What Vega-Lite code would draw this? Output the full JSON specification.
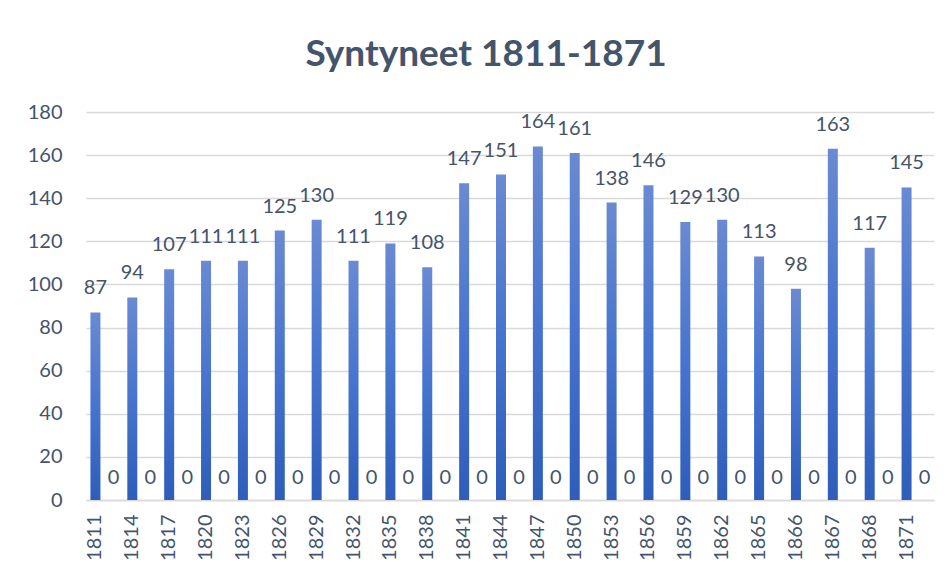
{
  "$schema": "https://vega.github.io/schema/vega-lite/v6.json",
  "width": 848,
  "height": 388,
  "autosize": {"type": "none"},
  "padding": {"left": 86, "top": 112, "right": 18, "bottom": 77},
  "background": "white",
  "title": {
    "text": "Syntyneet 1811-1871",
    "font": "Lato",
    "fontSize": 37,
    "fontWeight": "bold",
    "color": "#44546A",
    "anchor": "middle",
    "baseline": "alphabetic",
    "dx": -24,
    "offset": -1
  },
  "config": {
    "view": {"stroke": null},
    "axis": {"labelFont": "Lato", "labelFontSize": 20, "labelColor": "#44546A", "ticks": false, "title": null}
  },
  "data": {
    "values": [
      {"year": "1811", "births": 87, "other": 0},
      {"year": "1814", "births": 94, "other": 0},
      {"year": "1817", "births": 107, "other": 0},
      {"year": "1820", "births": 111, "other": 0},
      {"year": "1823", "births": 111, "other": 0},
      {"year": "1826", "births": 125, "other": 0},
      {"year": "1829", "births": 130, "other": 0},
      {"year": "1832", "births": 111, "other": 0},
      {"year": "1835", "births": 119, "other": 0},
      {"year": "1838", "births": 108, "other": 0},
      {"year": "1841", "births": 147, "other": 0},
      {"year": "1844", "births": 151, "other": 0},
      {"year": "1847", "births": 164, "other": 0},
      {"year": "1850", "births": 161, "other": 0},
      {"year": "1853", "births": 138, "other": 0},
      {"year": "1856", "births": 146, "other": 0},
      {"year": "1859", "births": 129, "other": 0},
      {"year": "1862", "births": 130, "other": 0},
      {"year": "1865", "births": 113, "other": 0},
      {"year": "1866", "births": 98, "other": 0},
      {"year": "1867", "births": 163, "other": 0},
      {"year": "1868", "births": 117, "other": 0},
      {"year": "1871", "births": 145, "other": 0}
    ]
  },
  "encoding": {
    "x": {
      "field": "year",
      "type": "ordinal",
      "sort": null,
      "scale": {"paddingInner": 0, "paddingOuter": 0},
      "axis": {
        "labelAngle": 270,
        "labelAlign": "right",
        "labelBaseline": "middle",
        "labelPadding": 14,
        "labelOffset": -9,
        "domainColor": "#D9D9D9",
        "domainWidth": 1.5,
        "grid": false
      }
    }
  },
  "layer": [
    {
      "mark": {
        "type": "bar",
        "size": 10,
        "xOffset": -9,
        "color": {
          "gradient": "linear",
          "x1": 0, "y1": 0, "x2": 0, "y2": 1,
          "stops": [
            {"offset": 0, "color": "#6A8AD2"},
            {"offset": 0.5, "color": "#4674CE"},
            {"offset": 1, "color": "#2E5DBA"}
          ]
        }
      },
      "encoding": {
        "y": {
          "field": "births",
          "type": "quantitative",
          "scale": {"domain": [0, 180]},
          "axis": {
            "values": [0, 20, 40, 60, 80, 100, 120, 140, 160, 180],
            "domain": false,
            "gridColor": "#D9D9D9",
            "gridWidth": 1.5,
            "labelPadding": 24
          }
        }
      }
    },
    {
      "mark": {"type": "text", "font": "Lato", "fontSize": 20, "color": "#44546A", "baseline": "alphabetic", "dx": -9, "dy": -18},
      "encoding": {
        "y": {"field": "births", "type": "quantitative"},
        "text": {"field": "births", "type": "quantitative"}
      }
    },
    {
      "mark": {"type": "text", "font": "Lato", "fontSize": 20, "color": "#44546A", "baseline": "alphabetic", "dx": 9, "dy": -16},
      "encoding": {
        "y": {"field": "other", "type": "quantitative"},
        "text": {"field": "other", "type": "quantitative"}
      }
    }
  ]
}
